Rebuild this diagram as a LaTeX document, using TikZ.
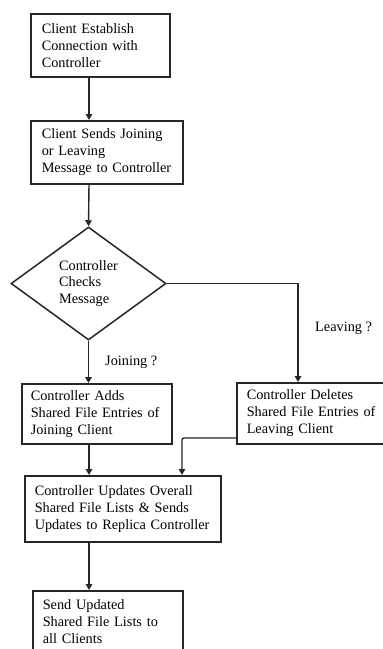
\documentclass[tikz,border=0pt]{standalone}
\usepackage{fontspec}
\setmainfont{Liberation Serif}
\usetikzlibrary{shapes.geometric,arrows.meta}

\tikzset{
  txt/.style={font=\fontsize{14.3}{16.9}\selectfont},
  box/.style={txt, draw=black!85, line width=1.5pt, rectangle, anchor=north west,
    align=left, inner ysep=0pt},
  decision/.style={txt, draw=black!85, line width=1.5pt, diamond, inner sep=0pt,
    align=left},
  flow/.style={draw=black!85, line width=1.4pt,
    -{Triangle[length=6pt,width=6.5pt]}},
  lbl/.style={txt, anchor=west, inner sep=0pt}
}

\begin{document}
\begin{tikzpicture}[x=1pt,y=-1pt]
  \useasboundingbox (0,0) rectangle (383,649);
  \clip (0,0) rectangle (383,649);

  % process steps
  \node[box, inner xsep=11pt, text width=117pt, minimum height=63pt] (b1) at (30,13)
    {Client Establish\\Connection with\\Controller};
  \node[box, inner xsep=11pt, text width=130pt, minimum height=63pt] (b2) at (30,120)
    {Client Sends Joining\\or Leaving\\Message to Controller};
  \node[decision, minimum width=155pt, minimum height=113pt] (dia) at (88.5,283.5)
    {Controller\\Checks\\Message};
  \node[box, inner xsep=9pt, text width=132pt, minimum height=60pt] (lb) at (21,383)
    {Controller Adds\\Shared File Entries of\\Joining Client};
  \node[box, inner xsep=10pt, text width=150pt, minimum height=61pt] (rb) at (236,382)
    {Controller Deletes\\Shared File Entries of\\Leaving Client};
  \node[box, inner xsep=10pt, text width=176pt, minimum height=66pt] (up) at (24,475)
    {Controller Updates Overall\\Shared File Lists \& Sends\\Updates to Replica Controller};
  \node[box, inner xsep=10pt, text width=130pt, minimum height=62pt] (fin) at (32,590)
    {Send Updated\\Shared File Lists to\\all Clients};

  % connector guide lines
  \coordinate (spine) at (89,0);
  \coordinate (rdrop) at (298,0);
  \coordinate (join) at (182,438);

  % connectors
  \draw[flow] (b1.south -| spine) -- (b2.north -| spine);
  \draw[flow] (b2.south -| spine) -- (dia.north);
  \draw[flow] (dia.east) -| (rb.north -| rdrop);
  \draw[flow] (dia.south) -- (lb.north -| dia.south);
  \draw[flow] (lb.south -| spine) -- (up.north -| spine);
  \draw[flow, rounded corners=2pt] (rb.west |- join) -- (join) -- (up.north -| join);
  \draw[flow] (up.south -| spine) -- (fin.north -| spine);

  % branch labels
  \node[lbl] (lj) at (105,362) {Joining ?};
  \node[lbl] (ll) at (315,328) {Leaving ?};
\end{tikzpicture}
\end{document}
